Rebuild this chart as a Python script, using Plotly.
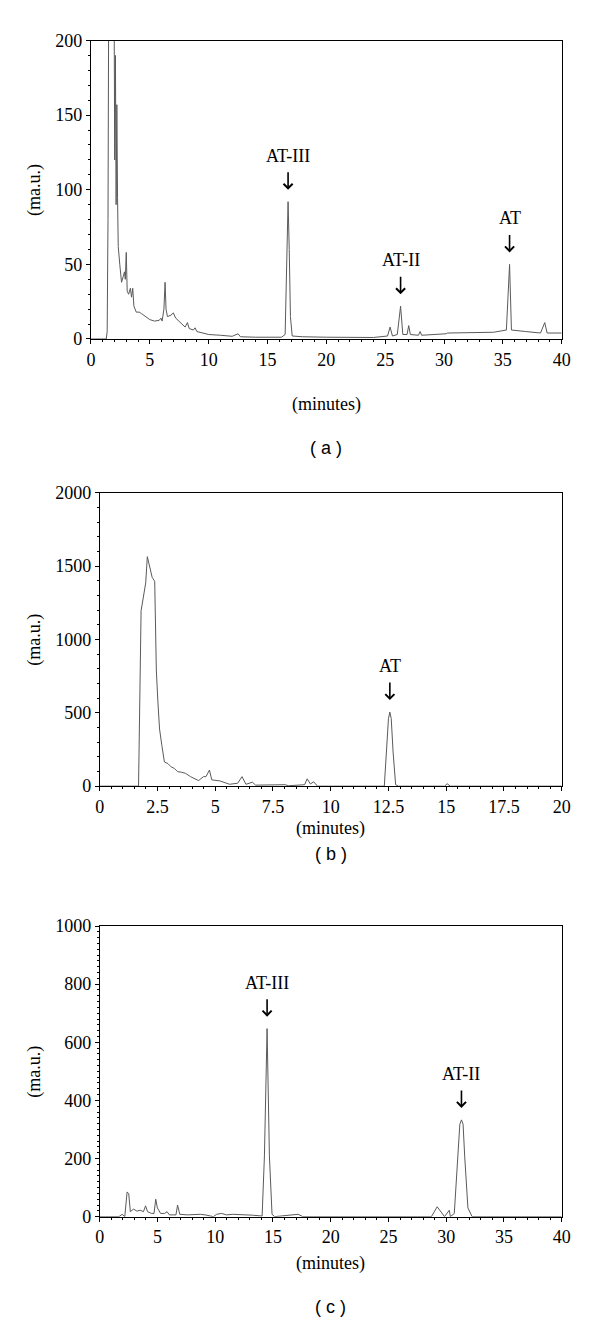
import plotly.graph_objects as go

W, H = 600, 1334
SERIF = "Liberation Serif"
SANS = "Liberation Sans"
TRACE = "#5a5a5a"

# ---- panel (a): 0-40 min, 0-200 mAU
A_TIME = [0, 1.30, 1.38, 1.45, 1.52, 1.95, 2.02, 2.08, 2.14, 2.20, 2.26, 2.32, 2.45,
          2.60, 2.75, 2.85, 2.92, 3.00, 3.08, 3.20, 3.35, 3.45, 3.55, 3.65, 3.85,
          4.10, 4.30, 4.60, 5.00, 5.40, 5.80, 5.95, 6.05, 6.20, 6.30, 6.38, 6.50,
          6.80, 7.00, 7.20, 7.60, 8.00, 8.20, 8.35, 8.70, 8.85, 9.00, 9.50, 10.0,
          11.0, 12.0, 12.5, 12.7, 14.0, 15.5, 16.2, 16.5, 16.65, 16.75, 16.85,
          16.95, 17.1, 18.0, 20.0, 24.0, 25.2, 25.42, 25.62, 26.03, 26.31, 26.5,
          26.86, 27.0, 27.14, 27.83, 27.97, 28.1, 30.18, 30.3, 34.2, 35.3, 35.57,
          35.73, 36.95, 38.2, 38.56, 38.76, 40.0]
A_SIGNAL = [0, 0, 5, 80, 260, 260, 120, 190, 90, 157, 95, 62, 50,
            38, 42, 45, 40, 58, 32, 30, 34, 28, 34, 22, 18,
            18, 17, 15, 13, 12, 12.5, 14, 12, 20, 38, 20, 15,
            16, 17.5, 14, 11, 8, 11, 7, 6, 7.5, 5, 4, 3,
            2.5, 1.8, 3.5, 1.5, 1.2, 1.5, 1.2, 3, 60, 92, 60,
            15, 2, 1.5, 1.2, 1, 2, 8, 2, 3, 22, 3,
            3, 9, 3, 2.5, 5, 2.5, 3.5, 4, 4.5, 6, 50,
            6, 5, 4, 11, 4, 4]
A_PEAKS = ["AT-III", "AT-II", "AT"]
A_PEAK_TIME = [16.75, 26.31, 35.57]

# ---- panel (b): 0-20 min, 0-2000 mAU
B_TIME = [0, 1.68, 1.79, 1.89, 1.99, 2.06, 2.17, 2.27, 2.38, 2.45, 2.52, 2.59, 2.69,
          2.80, 2.95, 3.09, 3.23, 3.37, 3.55, 3.72, 3.93, 4.28, 4.49, 4.60, 4.75,
          4.85, 5.20, 5.62, 5.97, 6.16, 6.33, 6.61, 6.75, 7.18, 7.46, 7.75, 8.03,
          8.17, 8.60, 8.87, 8.98, 9.12, 9.26, 9.43, 12.32, 12.42, 12.50, 12.56,
          12.62, 12.70, 12.81, 12.93, 14.93, 15.04, 15.18, 20]
B_SIGNAL = [0, 0, 1195, 1284, 1385, 1564, 1485, 1423, 1396, 792, 568, 389, 277,
            165, 154, 132, 121, 99, 95, 87, 65, 38, 65, 65, 110,
            43, 36, 13, 20, 65, 13, 27, 7, 7, 10, 7, 10,
            3, 5, 10, 50, 15, 30, 0, 0, 233, 460, 505,
            460, 233, 10, 0, 0, 17, 0, 0]
B_PEAKS = ["AT"]
B_PEAK_TIME = [12.56]

# ---- panel (c): 0-40 min, 0-1000 mAU
C_TIME = [0, 1.66, 1.94, 2.17, 2.37, 2.51, 2.65, 2.93, 3.21, 3.50, 3.78, 3.97, 4.14,
          4.48, 4.70, 4.85, 4.99, 5.27, 5.61, 5.83, 6.03, 6.60, 6.74, 6.93, 7.58,
          8.71, 9.13, 9.84, 10.12, 10.55, 10.97, 11.53, 13.22, 14.06, 14.26, 14.49,
          14.69, 14.92, 15.15, 17.17, 17.59, 28.72, 29.22, 29.56, 29.85, 30.27,
          30.36, 30.70, 30.98, 31.18, 31.32, 31.46, 31.60, 31.88, 32.24, 40]
C_SIGNAL = [0, 0, 8, 0, 85, 79, 17, 26, 19, 22, 17, 37, 17,
            11, 11, 60, 30, 11, 11, 17, 6, 6, 40, 8, 6,
            8, 6, 0, 8, 11, 6, 8, 5, 2, 209, 647,
            209, 8, 0, 8, 0, 0, 34, 15, 0, 22,
            0, 11, 209, 318, 333, 318, 209, 30, 0, 0]
C_PEAKS = ["AT-III", "AT-II"]
C_PEAK_TIME = [14.49, 31.32]

# panel layout in pixels: box = (left, right, top, bottom)
PANELS = [
    dict(t=A_TIME, s=A_SIGNAL, peaks=A_PEAKS, pt=A_PEAK_TIME, box=(88, 570, 31, 334),
         xr=[0, 40], xd=5, xm=1, yr=[0, 200], yd=50, ym=10,
         title_y=400, tag="( a )", tag_y=445),
    dict(t=B_TIME, s=B_SIGNAL, peaks=B_PEAKS, pt=B_PEAK_TIME, box=(97, 570, 490, 788),
         xr=[0, 20], xd=2.5, xm=0.5, yr=[0, 2000], yd=500, ym=100,
         title_y=831, tag="( b )", tag_y=857),
    dict(t=C_TIME, s=C_SIGNAL, peaks=C_PEAKS, pt=C_PEAK_TIME, box=(97, 570, 930, 1225),
         xr=[0, 40], xd=5, xm=1, yr=[0, 1000], yd=200, ym=20,
         title_y=1273, tag="( c )", tag_y=1317),
]


def py(p):
    return 1 - p / H


def txt(text, x, y, family=SERIF, size=18, **kw):
    return dict(text=text, x=x, y=y, xref="paper", yref="paper", xanchor="center",
                yanchor="middle", showarrow=False,
                font=dict(family=family, size=size, color="black"), **kw)


fig = go.Figure()
annotations = []
layout = {}

for i, p in enumerate(PANELS, start=1):
    l, r, t, b = p["box"]
    xa = "x" if i == 1 else f"x{i}"
    ya = "y" if i == 1 else f"y{i}"
    fig.add_trace(go.Scatter(x=p["t"], y=p["s"], mode="lines", xaxis=xa, yaxis=ya,
                             line=dict(color=TRACE, width=1), showlegend=False,
                             hoverinfo="skip"))
    common = dict(showline=True, linecolor="black", linewidth=1, mirror=True,
                  ticks="outside", ticklen=4, tickcolor="black", showgrid=False,
                  zeroline=False, tickfont=dict(family=SERIF, size=18, color="black"),
                  fixedrange=True)
    layout["xaxis" if i == 1 else f"xaxis{i}"] = dict(
        common, domain=[l / W, r / W], range=p["xr"], dtick=p["xd"], tick0=0,
        anchor=ya, minor=dict(dtick=p["xm"], ticks="outside", ticklen=2, tickcolor="black"))
    layout["yaxis" if i == 1 else f"yaxis{i}"] = dict(
        common, domain=[py(b), py(t)], range=p["yr"], dtick=p["yd"], tick0=0,
        anchor=xa, minor=dict(dtick=p["ym"], ticks="outside", ticklen=2, tickcolor="black"))

    cx = (l + r) / 2 / W
    annotations += [
        txt("(ma.u.)", 30 / W, py((t + b) / 2), textangle=-90),
        txt("(minutes)", cx, py(p["title_y"])),
        txt(p["tag"], cx, py(p["tag_y"]), family=SANS),
    ]
    for name, pt in zip(p["peaks"], p["pt"]):
        top = p["s"][p["t"].index(pt)]
        annotations += [
            # open chevron arrow pointing down at the peak apex
            dict(text="", x=pt, y=top, xref=xa, yref=ya, showarrow=True,
                 ax=0, ay=-31, arrowhead=4, arrowsize=1.1, arrowwidth=1.6,
                 arrowcolor="black", standoff=12, font=dict(size=1)),
            dict(text=name, x=pt, y=top, xref=xa, yref=ya, yanchor="middle", yshift=46,
                 showarrow=False, font=dict(family=SERIF, size=18, color="black")),
        ]

fig.update_layout(
    width=W, height=H, autosize=False,
    margin=dict(l=0, r=0, t=0, b=0),
    paper_bgcolor="white", plot_bgcolor="white",
    annotations=annotations,
    **layout,
)

fig.write_html("out.html", config={"displayModeBar": False},
               post_script="document.body.style.margin='0';")
